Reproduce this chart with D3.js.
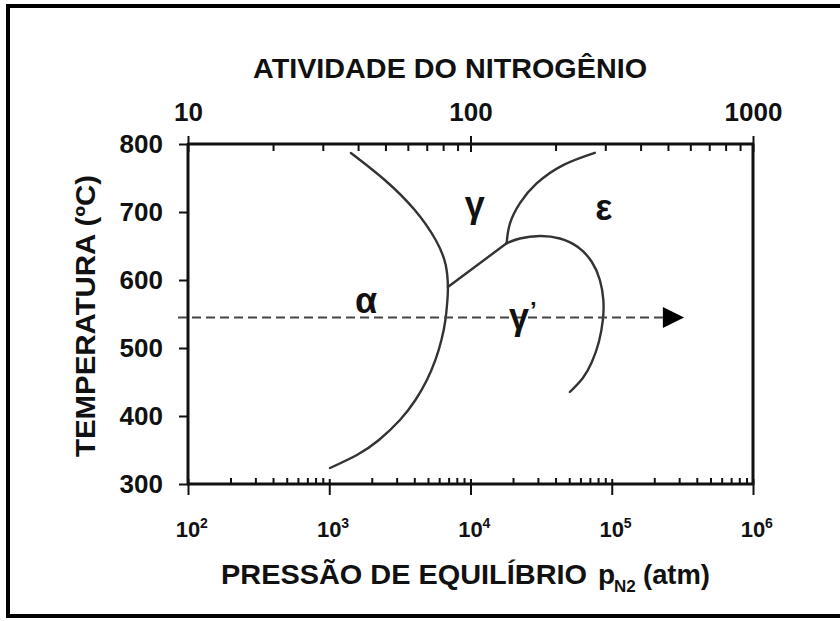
<!DOCTYPE html>
<html><head><meta charset="utf-8">
<script src="https://cdn.jsdelivr.net/npm/d3@7"></script>
<style>
html,body{margin:0;padding:0;background:#fff;}
svg{display:block;font-family:"Liberation Sans",Arial,sans-serif;font-weight:bold;}
</style></head><body>
<svg id="chart" width="840" height="621"></svg>
<script>
// Fe–N phase diagram: equilibrium N2 pressure (atm) against temperature (°C)

// boundary α / γ (pressure atm, temperature °C)
const alphaGammaBoundary = [[1424,786.8],[2471,747.1],[4029,702.9],[5672,658.8],[6676,622.1],[6918,589.7],
  [6863,570.6],[6643,541.2],[6226,511.8],[5643,482.4],[4913,452.9],[4074,423.5],[3166,394.1],
  [2247,364.7],[1570,342.6],[1012,323.5]];
// straight tie segment from the α boundary to the triple point
const tieSegment = [[6918,589.7],[18010,654]];
// boundary γ / ε
const gammaEpsilonBoundary = [[18010,654],[19010,683],[22390,713],[29380,742],[45290,769],[75860,787]];
// γ' field boundary
const gammaPrimeBoundary = [[18010,654],[22370,661],[30980,664.7],[42930,661],[57560,648.5],[72310,626.5],
  [82380,600],[87200,570.6],[86500,541.2],[81030,508.8],[72310,479.4],[62450,455.9],[50520,435.3]];

// nitriding path at constant temperature
const processTemperature = 545;
const processPressure = [85, 230000];
const arrowTipPressure = 325000;

// phase labels: text, pressure, temperature (baseline)
const phaseNames = ["α", "γ", "ε", "γ"];
const phasePressure = [1820, 10715, 87900, 23500];
const phaseTemperature = [551, 693, 688, 528];

const pressureTicks = [1e2, 1e3, 1e4, 1e5, 1e6];
const pressureExponents = ["2", "3", "4", "5", "6"];
const activityTicks = [10, 100, 1000];
const temperatureTicks = [300, 400, 500, 600, 700, 800];

const svg = d3.select("#chart");

// outer frame
svg.append("rect").attr("x", 8).attr("y", 6).attr("width", 900).attr("height", 610)
  .attr("fill", "none").attr("stroke", "#000").attr("stroke-width", 4);

const x = d3.scaleLog().domain([1e2, 1e6]).range([188, 753]);
const xa = d3.scaleLog().domain([10, 1000]).range([188, 753]);
const y = d3.scaleLinear().domain([300, 800]).range([484, 144]);

function minorTicks(lo, hi) {
  const out = [];
  for (let d = lo; d < hi; d *= 10) for (let k = 2; k <= 9; k++) out.push(d * k);
  return out;
}

function styleAxis(g) {
  g.select(".domain").remove();
  g.selectAll("line").attr("stroke", "#111").attr("stroke-width", 2);
  g.selectAll("text").attr("fill", "#111").attr("font-family", null);
}

// left axis
const gl = svg.append("g").attr("transform", "translate(188,0)")
  .call(d3.axisLeft(y).tickValues(temperatureTicks).tickSize(9).tickSizeOuter(0).tickPadding(16))
  .call(styleAxis);
gl.selectAll("text").attr("font-size", 26).attr("font-weight", "bold");

// bottom axis: major ticks crossing the frame, minor ticks inside
const gb = svg.append("g").attr("transform", "translate(0,484)")
  .call(d3.axisBottom(x).tickValues(pressureTicks).tickSize(11).tickSizeOuter(0).tickFormat(""))
  .call(styleAxis);
gb.selectAll(".tick line").attr("y1", -5);
svg.append("g").attr("transform", "translate(0,484)")
  .call(d3.axisBottom(x).tickValues(minorTicks(1e2, 1e6)).tickSize(-6).tickSizeOuter(0).tickFormat(""))
  .call(styleAxis);

// bottom tick labels as powers of ten
const bl = svg.append("g").selectAll("g").data(pressureTicks).join("g")
  .attr("transform", d => `translate(${x(d)},537)`);
bl.append("text").attr("text-anchor", "middle").attr("font-size", 22).attr("fill", "#111").text("10");
bl.append("text").attr("x", 12).attr("y", -9).attr("font-size", 14).attr("fill", "#111")
  .text((d, i) => pressureExponents[i]);

// top axis: nitrogen activity
const gt = svg.append("g").attr("transform", "translate(0,144)")
  .call(d3.axisTop(xa).tickValues(activityTicks).tickSize(8).tickSizeOuter(0).tickPadding(15)
    .tickFormat(d3.format("d")))
  .call(styleAxis);
gt.selectAll(".tick line").attr("y1", 8);
gt.selectAll("text").attr("font-size", 26);
svg.append("g").attr("transform", "translate(0,144)")
  .call(d3.axisTop(xa).tickValues(minorTicks(10, 1000)).tickSize(-7).tickSizeOuter(0).tickFormat(""))
  .call(styleAxis);

// plot frame
svg.append("rect").attr("x", 188).attr("y", 144).attr("width", 565).attr("height", 340)
  .attr("fill", "none").attr("stroke", "#111").attr("stroke-width", 3).attr("stroke-linejoin", "round");

// phase boundaries
const smooth = d3.line().x(d => x(d[0])).y(d => y(d[1])).curve(d3.curveNatural);
const straight = d3.line().x(d => x(d[0])).y(d => y(d[1]));
const curves = svg.append("g").attr("fill", "none").attr("stroke", "#333").attr("stroke-width", 2.4)
  .attr("stroke-linecap", "round");
curves.append("path").attr("d", smooth(alphaGammaBoundary));
curves.append("path").attr("d", straight(tieSegment));
curves.append("path").attr("d", smooth(gammaEpsilonBoundary));
curves.append("path").attr("d", smooth(gammaPrimeBoundary));

// constant-temperature path with arrow head
const yp = y(processTemperature);
svg.append("line").attr("x1", x(processPressure[0])).attr("x2", x(processPressure[1]))
  .attr("y1", yp).attr("y2", yp).attr("stroke", "#444").attr("stroke-width", 2)
  .attr("stroke-dasharray", "9,5");
const xe = x(processPressure[1]), xt = x(arrowTipPressure);
svg.append("path").attr("d", `M${xe},${yp - 10.5}L${xt},${yp}L${xe},${yp + 10.5}Z`).attr("fill", "#000");

// phase labels
const labels = svg.append("g").attr("fill", "#111").attr("text-anchor", "middle")
  .attr("font-family", "'Liberation Sans', Arial, sans-serif").attr("font-size", 36);
phaseNames.forEach((t, i) => {
  const tx = labels.append("text").attr("x", x(phasePressure[i])).attr("y", y(phaseTemperature[i])).text(t);
  if (i === 3) tx.append("tspan").attr("font-size", 24).attr("dy", -10).attr("dx", 1).text("’");
});

// axis titles
svg.append("text").attr("x", 450).attr("y", 78).attr("text-anchor", "middle").attr("font-size", 28)
  .attr("fill", "#111").attr("textLength", 394).attr("lengthAdjust", "spacingAndGlyphs")
  .text("ATIVIDADE DO NITROGÊNIO");

svg.append("text").attr("transform", "translate(95,316) rotate(-90)").attr("text-anchor", "middle")
  .attr("font-size", 28).attr("fill", "#111").attr("textLength", 282).attr("lengthAdjust", "spacingAndGlyphs")
  .text("TEMPERATURA (ºC)");

const xt1 = svg.append("g").attr("fill", "#111");
xt1.append("text").attr("x", 221).attr("y", 584).attr("font-size", 28)
  .attr("textLength", 366).attr("lengthAdjust", "spacingAndGlyphs").text("PRESSÃO DE EQUILÍBRIO");
xt1.append("text").attr("x", 598).attr("y", 584).attr("font-size", 28).text("p");
xt1.append("text").attr("x", 614).attr("y", 592).attr("font-size", 17).text("N2");
xt1.append("text").attr("x", 643).attr("y", 584).attr("font-size", 28)
  .attr("textLength", 67).attr("lengthAdjust", "spacingAndGlyphs").text("(atm)");
</script>
</body></html>
